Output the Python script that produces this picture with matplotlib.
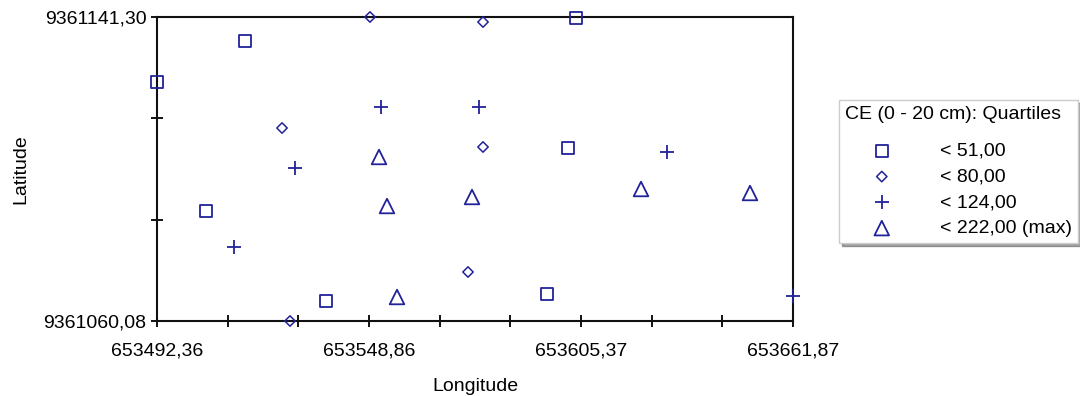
import matplotlib.pyplot as plt
import numpy as np

plt.rcParams['font.family'] = ['Liberation Sans', 'DejaVu Sans']

x_min, x_max = 653492.36, 653661.87
y_min, y_max = 9361060.08, 9361141.30

# CE (0 - 20 cm) quartile groups: (longitude, latitude)
q1_lon = [653492.36, 653515.81, 653505.42, 653537.40, 653596.31, 653601.90, 653604.04]
q1_lat = [9361123.93, 9361134.89, 9361089.47, 9361065.42, 9361067.29, 9361106.30, 9361141.03]

q2_lon = [653549.13, 653579.25, 653525.68, 653579.25, 653575.25, 653527.81]
q2_lat = [9361141.30, 9361139.96, 9361111.64, 9361106.57, 9361073.17, 9361060.08]

q3_lon = [653552.06, 653578.18, 653529.14, 653628.29, 653512.88, 653661.87]
q3_lat = [9361117.25, 9361117.25, 9361100.96, 9361105.23, 9361079.85, 9361066.76]

q4_lon = [653551.53, 653553.66, 653576.32, 653621.36, 653650.41, 653556.33]
q4_lat = [9361103.90, 9361090.80, 9361093.21, 9361095.35, 9361094.28, 9361066.49]

labels = ["< 51,00", "< 80,00", "< 124,00", "< 222,00 (max)"]
x_tick_labels = ["653492,36", "", "", "653548,86", "", "", "653605,37", "", "", "653661,87"]
y_tick_labels = ["9361060,08", "", "", "9361141,30"]

color = "#22229a"

fig = plt.figure(figsize=(10.8, 3.96), dpi=100)
ax = fig.add_axes([157 / 1080, 75 / 396, 636 / 1080, 304 / 396])

ax.scatter(q1_lon, q1_lat, marker="s", s=80, facecolors="none", edgecolors=color,
           linewidths=1.3, clip_on=False, label=labels[0], zorder=3)
ax.scatter(q2_lon, q2_lat, marker="D", s=28, facecolors="none", edgecolors=color,
           linewidths=1.1, clip_on=False, label=labels[1], zorder=3)
ax.scatter(q3_lon, q3_lat, marker="+", s=110, color=color,
           linewidths=1.3, clip_on=False, label=labels[2], zorder=3)
ax.scatter(q4_lon, q4_lat, marker="^", s=110, facecolors="none", edgecolors=color,
           linewidths=1.3, clip_on=False, label=labels[3], zorder=3)

ax.set_xlim(x_min, x_max)
ax.set_ylim(y_min, y_max)
ax.set_xticks(np.linspace(x_min, x_max, len(x_tick_labels)))
ax.set_xticklabels(x_tick_labels)
ax.set_yticks(np.linspace(y_min, y_max, len(y_tick_labels)))
ax.set_yticklabels(y_tick_labels)
ax.tick_params(direction="inout", length=9, width=1.3, labelsize=14, colors="black")
ax.tick_params(axis="x", pad=11)
ax.tick_params(axis="y", pad=3)
for s in ax.spines.values():
    s.set_linewidth(1.5)
    s.set_color("#111111")

ax.set_xlabel("Longitude", fontsize=14, labelpad=13)
ax.set_ylabel("Latitude", fontsize=14, labelpad=10)

leg = ax.legend(title="CE (0 - 20 cm): Quartiles", loc="upper left",
                bbox_to_anchor=(839 / 1080, 296 / 396), bbox_transform=fig.transFigure,
                fontsize=14, title_fontsize=14, alignment="left",
                handlelength=3.8, handletextpad=1.1, labelspacing=0.42,
                borderpad=0.3, frameon=True, fancybox=False, shadow=True,
                edgecolor="#cccccc", borderaxespad=0)
leg.get_frame().set_linewidth(1.0)
leg._legend_box.sep = 14

fig.savefig("out.png", dpi=100)
